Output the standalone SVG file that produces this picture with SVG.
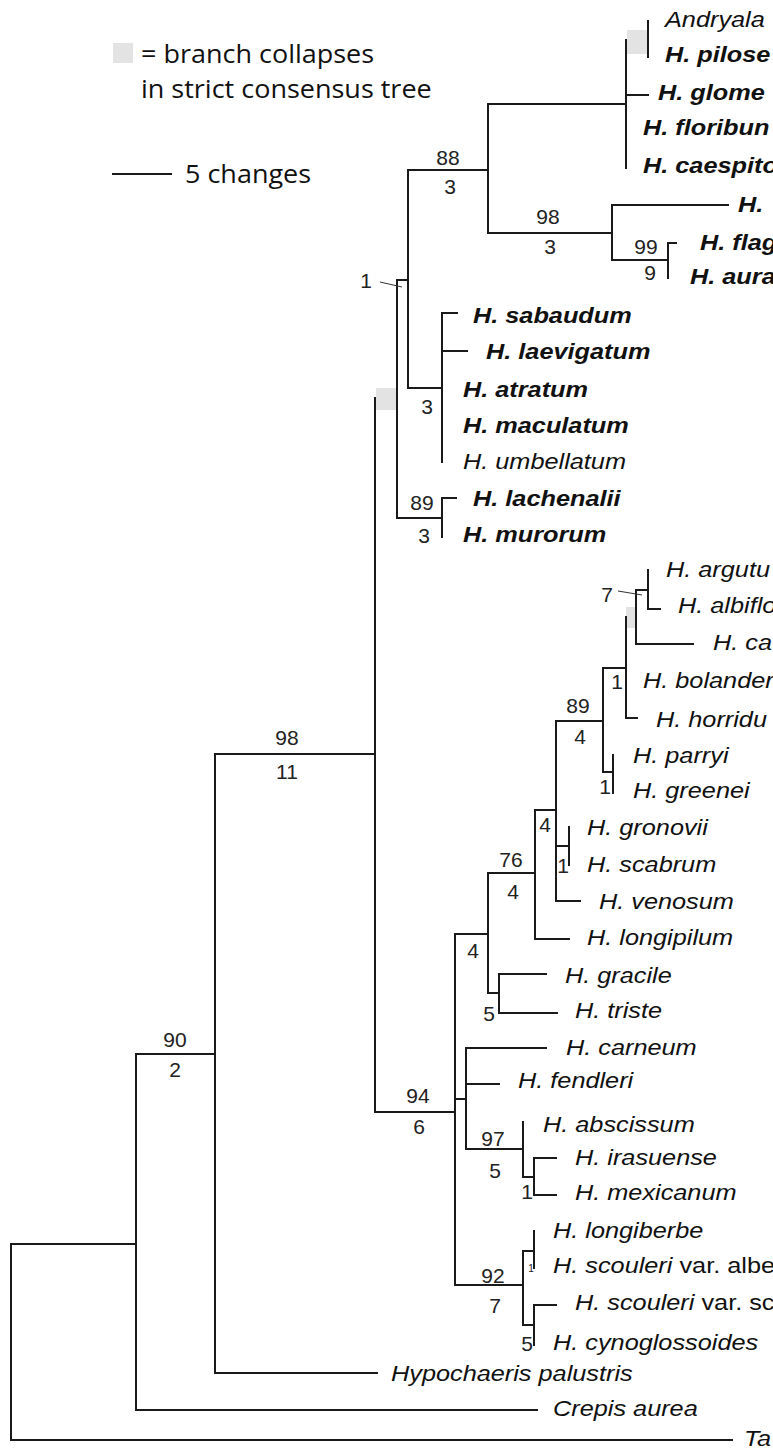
<svg xmlns="http://www.w3.org/2000/svg" width="773" height="1448" viewBox="0 0 773 1448">
<style>
  .br{fill:none;stroke:#1a1a1a;stroke-width:2;stroke-linecap:square;stroke-linejoin:miter}
  .ptr{fill:none;stroke:#333;stroke-width:1}
  .col{fill:#e3e3e3}
  .tx{font-family:"Liberation Sans",Arial,sans-serif;font-size:22px;font-style:italic;fill:#111}
  .b{font-weight:bold}
  .rm{font-style:normal}
  .n{font-family:"Liberation Sans",Arial,sans-serif;font-size:21px;fill:#222;text-anchor:middle}
  .sm{font-size:10px}
  .lg{font-family:"Open Sans","Liberation Sans",sans-serif;font-size:25px;fill:#111}
</style>
<rect width="773" height="1448" fill="#fff"/>

<!-- legend -->
<g id="legend">
  <rect class="col" x="113" y="43" width="20" height="20"/>
  <g transform="translate(141,63)"><text class="lg" transform="scale(1.08,1)">= branch collapses</text></g>
  <g transform="translate(141,98)"><text class="lg" transform="scale(1.08,1)">in strict consensus tree</text></g>
  <line class="br" x1="113" y1="174" x2="171" y2="174"/>
  <g transform="translate(185,183)"><text class="lg" transform="scale(1.08,1)">5 changes</text></g>
</g>

<!-- collapsed-branch markers -->
<g id="collapsed">
  <rect class="col" x="627" y="30" width="20" height="24"/>
  <rect class="col" x="376" y="388" width="20" height="22"/>
  <rect class="col" x="626" y="607" width="9" height="21"/>
</g>

<!-- branches -->
<g id="connectors">
  <path class="br" d="M11,1244V1440H732 M11,1244H136 M136,1054V1410H537 M136,1054H215 M215,754V1373H377 M215,754H375
    M375,398V1112H455
    M397,280V518H442 M397,280H408
    M408,170V388H442 M408,170H488
    M488,104V233H612 M488,104H626
    M626,40V168 M648,21V57 M626,95H648
    M612,205V260H668 M612,205H728
    M668,243V278 M668,243H676
    M442,313V462 M442,313H457 M442,351H467
    M442,498V537 M442,498H456
    M455,934V1285 M455,934H488
    M488,873V993H499 M488,873H535
    M499,974V1013H557 M499,974H546
    M535,810V939H569 M535,810H556
    M556,721V901H580 M556,721H603 M556,846H569 M569,827V865
    M603,668V772H613 M603,668H626 M613,755V793
    M626,617V718H637
    M636,590V644H693 M636,590H648
    M648,570V609H660
    M455,1099H466 M466,1048V1149H523 M466,1048H546 M466,1084H499
    M523,1122V1177H534 M534,1158V1195H556 M534,1158H556
    M455,1285H523 M523,1251V1325H534 M523,1251H534
    M534,1231V1268 M534,1305V1345 M534,1305H556"/>
  <path class="ptr" d="M380,282L402,287 M618,591L642,595"/>
</g>

<!-- support / branch-length labels -->
<g id="support">
  <text class="n" x="366" y="288">1</text>
  <text class="n" x="448" y="165">88</text>
  <text class="n" x="450" y="194">3</text>
  <text class="n" x="548" y="224">98</text>
  <text class="n" x="550" y="254">3</text>
  <text class="n" x="646" y="254">99</text>
  <text class="n" x="650" y="280">9</text>
  <text class="n" x="427" y="414">3</text>
  <text class="n" x="422" y="510">89</text>
  <text class="n" x="424" y="543">3</text>
  <text class="n" x="287" y="745">98</text>
  <text class="n" x="287" y="779">11</text>
  <text class="n" x="175" y="1047">90</text>
  <text class="n" x="175" y="1077">2</text>
  <text class="n" x="418" y="1103">94</text>
  <text class="n" x="419" y="1134">6</text>
  <text class="n" x="607" y="602">7</text>
  <text class="n" x="617" y="689">1</text>
  <text class="n" x="578" y="713">89</text>
  <text class="n" x="580" y="744">4</text>
  <text class="n" x="605" y="794">1</text>
  <text class="n" x="545" y="832">4</text>
  <text class="n" x="563" y="873">1</text>
  <text class="n" x="511" y="867">76</text>
  <text class="n" x="513" y="899">4</text>
  <text class="n" x="473" y="958">4</text>
  <text class="n" x="489" y="1021">5</text>
  <text class="n" x="493" y="1146">97</text>
  <text class="n" x="495" y="1178">5</text>
  <text class="n" x="527" y="1199">1</text>
  <text class="n" x="493" y="1283">92</text>
  <text class="n" x="495" y="1313">7</text>
  <text class="n sm" x="531" y="1272">1</text>
  <text class="n" x="527" y="1351">5</text>
</g>

<!-- taxa -->
<g id="t-andryala" transform="translate(665,27)"><text class="tx" transform="scale(1.15,1)">Andryala</text></g>
<g id="t-pilose" transform="translate(665,62)"><text class="tx b" transform="scale(1.15,1)">H. pilose</text></g>
<g id="t-glome" transform="translate(658,100)"><text class="tx b" transform="scale(1.15,1)">H. glome</text></g>
<g id="t-floribun" transform="translate(643,135)"><text class="tx b" transform="scale(1.15,1)">H. floribun</text></g>
<g id="t-caespito" transform="translate(643,173)"><text class="tx b" transform="scale(1.15,1)">H. caespito</text></g>
<g id="t-h" transform="translate(738,212)"><text class="tx b" transform="scale(1.15,1)">H.</text></g>
<g id="t-flag" transform="translate(700,250)"><text class="tx b" transform="scale(1.15,1)">H. flag</text></g>
<g id="t-aura" transform="translate(690,284)"><text class="tx b" transform="scale(1.15,1)">H. aura</text></g>
<g id="t-sabaudum" transform="translate(473,323)"><text class="tx b" transform="scale(1.15,1)">H. sabaudum</text></g>
<g id="t-laevigatum" transform="translate(486,359)"><text class="tx b" transform="scale(1.15,1)">H. laevigatum</text></g>
<g id="t-atratum" transform="translate(463,397)"><text class="tx b" transform="scale(1.15,1)">H. atratum</text></g>
<g id="t-maculatum" transform="translate(463,433)"><text class="tx b" transform="scale(1.15,1)">H. maculatum</text></g>
<g id="t-umbellatum" transform="translate(463,469)"><text class="tx" transform="scale(1.15,1)">H. umbellatum</text></g>
<g id="t-lachenalii" transform="translate(473,506)"><text class="tx b" transform="scale(1.15,1)">H. lachenalii</text></g>
<g id="t-murorum" transform="translate(463,542)"><text class="tx b" transform="scale(1.15,1)">H. murorum</text></g>
<g id="t-argutu" transform="translate(666,577)"><text class="tx" transform="scale(1.15,1)">H. argutu</text></g>
<g id="t-albiflo" transform="translate(678,613)"><text class="tx" transform="scale(1.15,1)">H. albiflo</text></g>
<g id="t-ca" transform="translate(713,650)"><text class="tx" transform="scale(1.15,1)">H. ca</text></g>
<g id="t-bolander" transform="translate(643,688)"><text class="tx" transform="scale(1.15,1)">H. bolander</text></g>
<g id="t-horridu" transform="translate(656,727)"><text class="tx" transform="scale(1.15,1)">H. horridu</text></g>
<g id="t-parryi" transform="translate(633,763)"><text class="tx" transform="scale(1.15,1)">H. parryi</text></g>
<g id="t-greenei" transform="translate(633,798)"><text class="tx" transform="scale(1.15,1)">H. greenei</text></g>
<g id="t-gronovii" transform="translate(587,835)"><text class="tx" transform="scale(1.15,1)">H. gronovii</text></g>
<g id="t-scabrum" transform="translate(587,872)"><text class="tx" transform="scale(1.15,1)">H. scabrum</text></g>
<g id="t-venosum" transform="translate(599,909)"><text class="tx" transform="scale(1.15,1)">H. venosum</text></g>
<g id="t-longipilum" transform="translate(587,945)"><text class="tx" transform="scale(1.15,1)">H. longipilum</text></g>
<g id="t-gracile" transform="translate(565,983)"><text class="tx" transform="scale(1.15,1)">H. gracile</text></g>
<g id="t-triste" transform="translate(575,1018)"><text class="tx" transform="scale(1.15,1)">H. triste</text></g>
<g id="t-carneum" transform="translate(566,1055)"><text class="tx" transform="scale(1.15,1)">H. carneum</text></g>
<g id="t-fendleri" transform="translate(518,1088)"><text class="tx" transform="scale(1.15,1)">H. fendleri</text></g>
<g id="t-abscissum" transform="translate(543,1132)"><text class="tx" transform="scale(1.15,1)">H. abscissum</text></g>
<g id="t-irasuense" transform="translate(575,1165)"><text class="tx" transform="scale(1.15,1)">H. irasuense</text></g>
<g id="t-mexicanum" transform="translate(575,1200)"><text class="tx" transform="scale(1.15,1)">H. mexicanum</text></g>
<g id="t-longiberbe" transform="translate(553,1238)"><text class="tx" transform="scale(1.15,1)">H. longiberbe</text></g>
<g id="t-scouleri-albe" transform="translate(553,1273)"><text class="tx" transform="scale(1.15,1)">H. scouleri<tspan class="rm"> var. albe</tspan></text></g>
<g id="t-scouleri-sc" transform="translate(575,1310)"><text class="tx" transform="scale(1.15,1)">H. scouleri<tspan class="rm"> var. sc</tspan></text></g>
<g id="t-cynoglossoides" transform="translate(553,1350)"><text class="tx" transform="scale(1.15,1)">H. cynoglossoides</text></g>
<g id="t-hypochaeris" transform="translate(391,1381)"><text class="tx" transform="scale(1.15,1)">Hypochaeris palustris</text></g>
<g id="t-crepis" transform="translate(553,1416)"><text class="tx" transform="scale(1.15,1)">Crepis aurea</text></g>
<g id="t-ta" transform="translate(744,1446)"><text class="tx" transform="scale(1.15,1)">Ta</text></g>
</svg>
